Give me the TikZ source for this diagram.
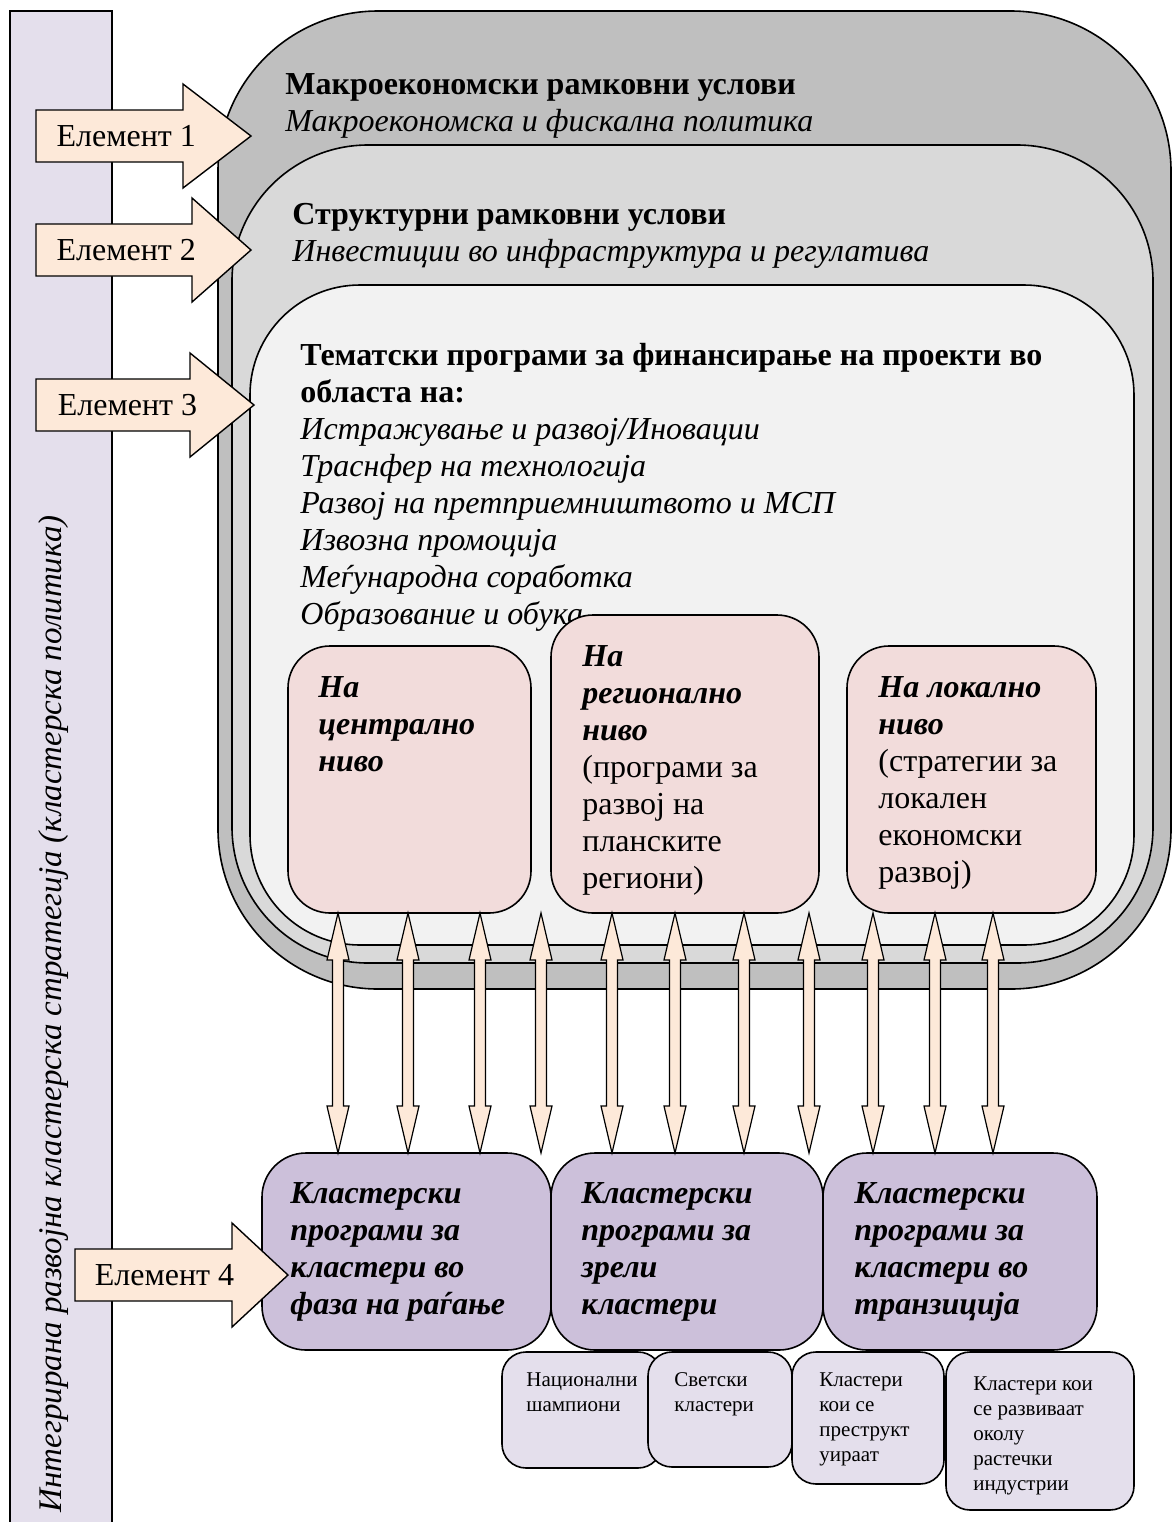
\documentclass[tikz,border=0pt]{standalone}
\usepackage{fontspec}
\setmainfont{Liberation Serif}
\usetikzlibrary{calc,fit,positioning}
\definecolor{barlilac}{HTML}{E4DFEC}
\definecolor{macrogray}{HTML}{BFBFBF}
\definecolor{structgray}{HTML}{D9D9D9}
\definecolor{themagray}{HTML}{F2F2F2}
\definecolor{levelpink}{HTML}{F2DCDB}
\definecolor{elempeach}{HTML}{FDE9D9}
\definecolor{clustlilac}{HTML}{CCC0DA}
\newcommand{\mainsz}{\fontsize{16}{18.5}\selectfont}
\newcommand{\smallsz}{\fontsize{10.5}{12.5}\selectfont}
\tikzset{
  frame/.style={draw=black, line width=0.8pt, inner sep=0pt},
  bar/.style={frame, fill=barlilac},
  macrobox/.style={frame, fill=macrogray, rounded corners=80pt},
  structbox/.style={frame, fill=structgray, rounded corners=68pt},
  themabox/.style={frame, fill=themagray, rounded corners=55pt},
  levelbox/.style={frame, fill=levelpink, rounded corners=21pt},
  clustbox/.style={frame, fill=clustlilac, rounded corners=22pt},
  subbox/.style={frame, fill=barlilac, rounded corners=12pt},
  elemarrow/.style={draw=black, line width=0.7pt, fill=elempeach},
  twoway/.style={draw=black, line width=0.6pt, fill=elempeach},
  txt/.style={anchor=north west, inner sep=0pt, align=left, font=\mainsz},
  bitxt/.style={txt, font=\mainsz\bfseries\itshape},
  subtxt/.style={anchor=north west, inner sep=0pt, align=left, font=\smallsz},
  elemtext/.style={inner sep=0pt, font=\mainsz},
  bartext/.style={rotate=90, inner sep=0pt, font=\fontsize{16.5}{19}\selectfont\itshape}
}
\newcommand{\elarrow}[6]{%
  \draw[elemarrow] (#2,#5-26) -- (#3,#5-26) -- (#3,#5-52) -- (#4,#5) -- (#3,#5+52) -- (#3,#5+26) -- (#2,#5+26) -- cycle;
  \node[elemtext] (#1) at ({#2+0.42*(#4-#2)},#5) {Елемент #6};}

\begin{document}
\begin{tikzpicture}[x=0.5pt, y=-0.5pt]
\useasboundingbox (0,0) rectangle (1172,1522);
\node[bar, fit={(10,11) (112,1540)}] (bar) {};
\node[bartext] (policy) at (54,1014) {Интегрирана развојна кластерска стратегија (кластерска политика)};

\node[macrobox, fit={(218,11) (1171,989)}] (macro) {};
\node[structbox, fit={(232,145) (1153,963)}] (struct) {};
\node[themabox, fit={(250,285) (1134,945)}] (thema) {};

\node[txt] (macrotxt) at (285,73) {\textbf{Макроекономски рамковни услови}\\
  \textit{Макроекономска и фискална политика}};
\node[txt] (structtxt) at (292,203) {\textbf{Структурни рамковни услови}\\
  \textit{Инвестиции во инфраструктура и регулатива}};
\node[txt] (thematxt) at (300,343) {\textbf{Тематски програми за финансирање на проекти во}\\
  \textbf{областа на:}\\
  \textit{Истражување и развој/Иновации}\\
  \textit{Траснфер на технологија}\\
  \textit{Развој на претприемништвото и МСП}\\
  \textit{Извозна промоција}\\
  \textit{Меѓународна соработка}\\
  \textit{Образование и обука}};

\node[levelbox, fit={(288,646) (531,913)}] (central) {};
\node[levelbox, fit={(551,615) (819,913)}] (regional) {};
\node[levelbox, fit={(847,646) (1096,913)}] (local) {};
\node[bitxt] at (318,676) {На\\централно\\ниво};
\node[txt] at (582,645) {\textbf{\textit{На}}\\\textbf{\textit{регионално}}\\\textbf{\textit{ниво}}\\
  (програми за\\развој на\\планските\\региони)};
\node[txt] at (878,676) {\textbf{\textit{На локално}}\\\textbf{\textit{ниво}}\\
  (стратегии за\\локален\\економски\\развој)};

\node[clustbox, fit={(262,1153) (551,1350)}] (emerg) {};
\node[clustbox, fit={(551,1153) (823,1350)}] (mature) {};
\node[clustbox, fit={(823,1153) (1097,1350)}] (transit) {};
\node[bitxt] at (290,1182) {Кластерски\\програми за\\кластери во\\фаза на раѓање};
\node[bitxt] at (581,1182) {Кластерски\\програми за\\зрели\\кластери};
\node[bitxt] at (854,1182) {Кластерски\\програми за\\кластери во\\транзиција};

\node[subbox, fit={(502,1352) (662,1468)}] (natl) {};
\node[subbox, fit={(648,1352) (792,1467)}] (world) {};
\node[subbox, fit={(792,1352) (944,1484)}] (restr) {};
\node[subbox, fit={(946,1352) (1134,1510)}] (grow) {};
\node[subtxt] at (526,1372) {Национални\\шампиони};
\node[subtxt] at (674,1372) {Светски\\кластери};
\node[subtxt] at (819,1372) {Кластери\\кои се\\преструкт\\уираат};
\node[subtxt] at (973,1376) {Кластери кои\\се развиваат\\околу\\растечки\\индустрии};

\foreach \ax [count=\i] in {338,408,480,541,612,675,744,809,873,935,993} {
  \coordinate (up\i) at (\ax,913);
  \coordinate (dn\i) at (\ax,1153);
  \draw[twoway] (up\i) -- ++(11,47) -- ++(-5.5,0) -- ($(dn\i)+(5.5,-47)$) -- ++(5.5,0) -- (dn\i)
    -- ++(-11,-47) -- ++(5.5,0) -- ($(up\i)+(-5.5,47)$) -- ++(-5.5,0) -- cycle;
}

\elarrow{elem1}{36}{183}{251}{136}{1}
\elarrow{elem2}{36}{192}{251}{250}{2}
\elarrow{elem3}{36}{190}{254}{405}{3}
\elarrow{elem4}{75}{232}{288}{1275}{4}
\end{tikzpicture}
\end{document}
